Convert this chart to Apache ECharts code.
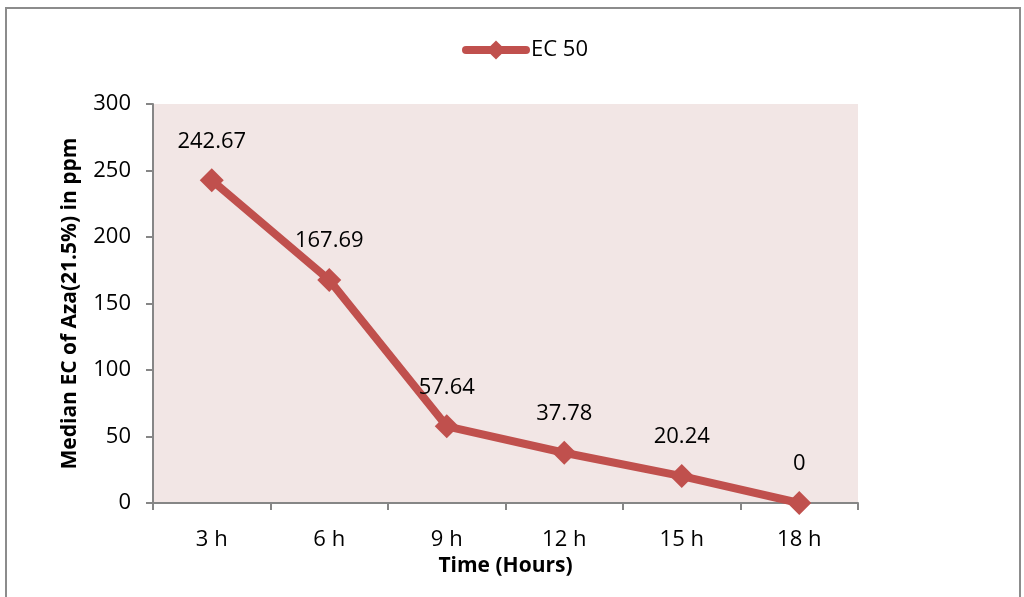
<!DOCTYPE html>
<html>
<head>
<meta charset="utf-8">
<script src="https://cdn.jsdelivr.net/npm/echarts@6/dist/echarts.min.js"></script>
<style>
html, body { margin: 0; padding: 0; background: #fff; }
#chart { width: 1024px; height: 597px; }
</style>
</head>
<body>
<div id="chart"></div>
<script>
var categories = ['3 h', '6 h', '9 h', '12 h', '15 h', '18 h'];
var ec50 = [242.67, 167.69, 57.64, 37.78, 20.24, 0];
var yTicks = { min: 0, max: 300, interval: 50 };

var myChart = echarts.init(document.getElementById('chart'));
var font = 'Open Sans, Liberation Sans, sans-serif';

var option = {
    backgroundColor: '#fff',
    animation: false,
    textStyle: { fontFamily: font },
    graphic: [{
        type: 'rect',
        shape: { x: 6, y: 8, width: 1014, height: 600 },
        style: { fill: 'none', stroke: '#8c8c8c', lineWidth: 2 },
        silent: true
    }],
    legend: {
        top: 34,
        left: 457,
        itemWidth: 60,
        itemHeight: 24,
        itemGap: 4,
        lineStyle: { width: 8, cap: 'round' },
        textStyle: { fontSize: 22, color: '#000', fontFamily: font },
        data: ['EC 50']
    },
    grid: {
        left: 153,
        top: 104,
        width: 705,
        height: 399,
        show: true,
        backgroundColor: '#F2E6E5',
        borderWidth: 0
    },
    xAxis: {
        type: 'category',
        data: categories,
        boundaryGap: true,
        name: 'Time (Hours)',
        nameLocation: 'middle',
        nameGap: 52,
        nameTextStyle: { fontSize: 21, fontWeight: 'bold', color: '#000', fontFamily: font },
        axisLine: { lineStyle: { color: '#868686', width: 2 } },
        axisTick: { show: true, length: 7, lineStyle: { color: '#868686', width: 2 } },
        axisLabel: { fontSize: 22, color: '#000', margin: 26, fontFamily: font },
        splitLine: { show: false }
    },
    yAxis: {
        type: 'value',
        min: yTicks.min,
        max: yTicks.max,
        interval: yTicks.interval,
        name: 'Median EC of Aza(21.5%) in ppm',
        nameLocation: 'middle',
        nameGap: 72,
        nameTextStyle: { fontSize: 21, fontWeight: 'bold', color: '#000', fontFamily: font },
        axisLine: { show: true, lineStyle: { color: '#868686', width: 2 } },
        axisTick: { show: true, length: 7, lineStyle: { color: '#868686', width: 2 } },
        axisLabel: { fontSize: 22, color: '#000', margin: 22, fontFamily: font },
        splitLine: { show: false }
    },
    series: [{
        name: 'EC 50',
        type: 'line',
        data: ec50,
        symbol: 'diamond',
        symbolSize: 24,
        itemStyle: { color: '#C0504D' },
        lineStyle: { color: '#C0504D', width: 8 },
        label: {
            show: true,
            position: 'top',
            distance: 16,
            fontSize: 22,
            color: '#000',
            fontFamily: font
        }
    }]
};

myChart.setOption(option, true);
</script>
</body>
</html>
